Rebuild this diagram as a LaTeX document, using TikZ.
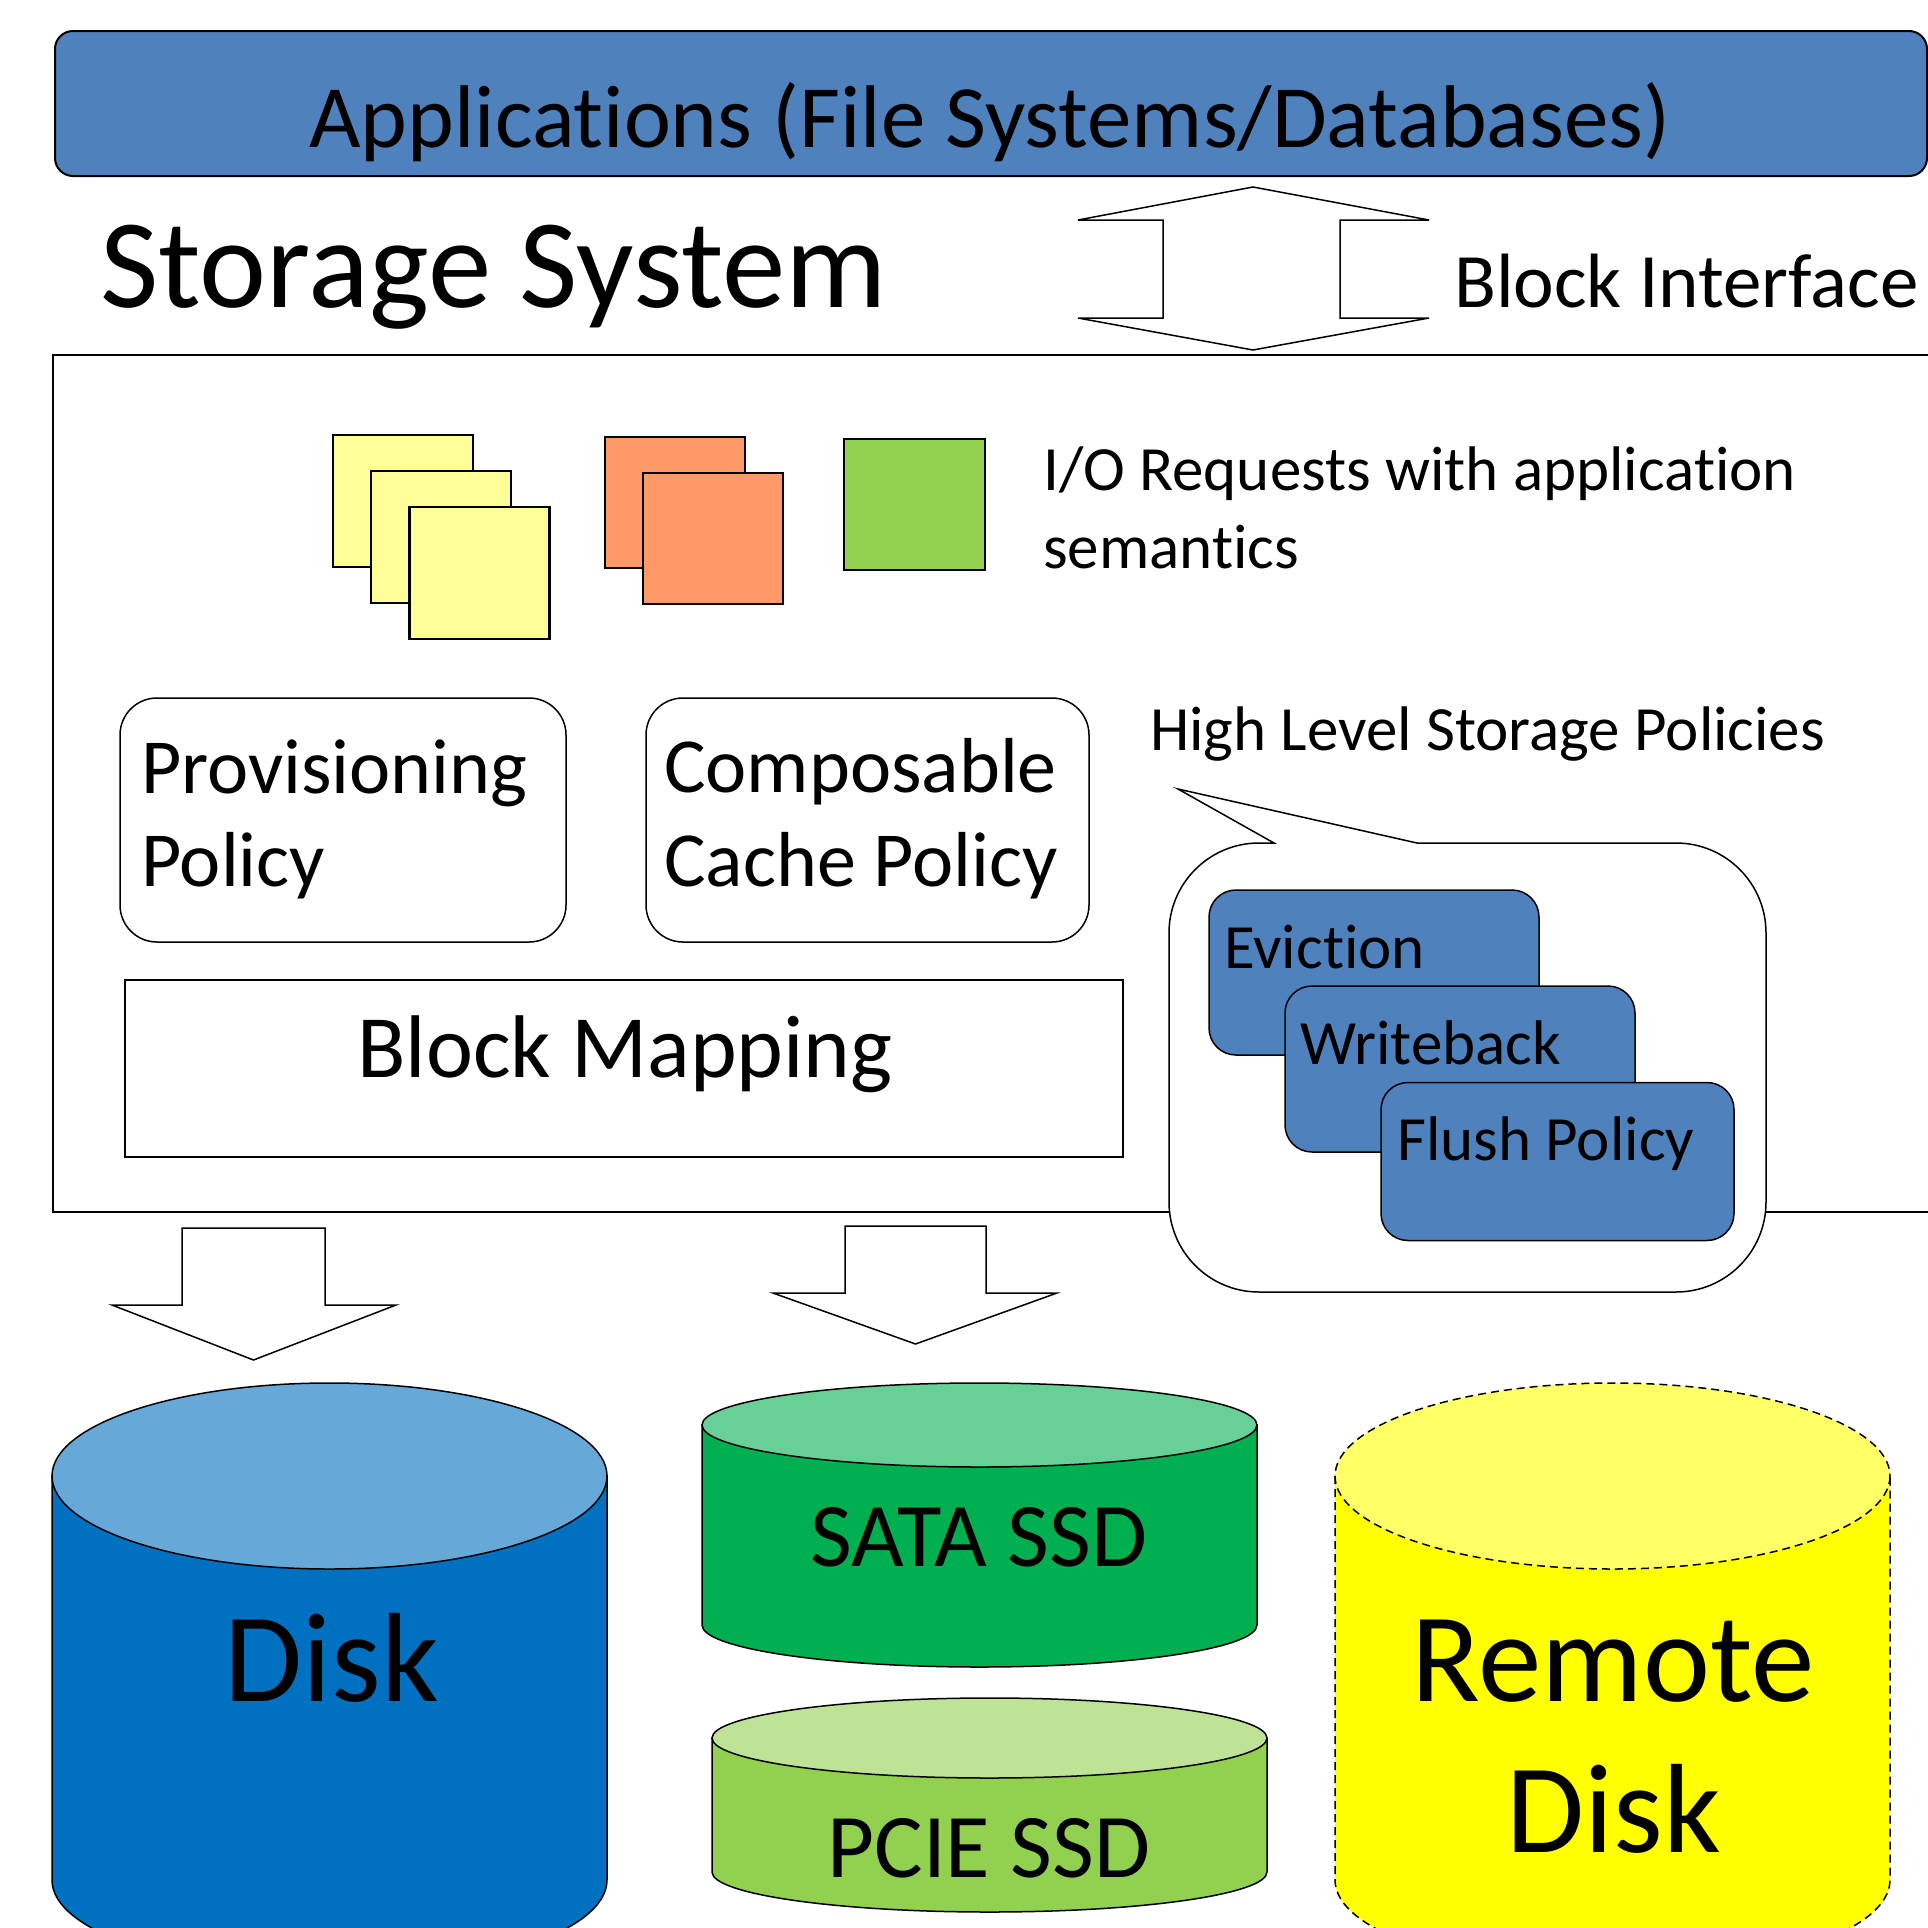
\documentclass[tikz,border=0pt]{standalone}
\usepackage{fontspec}
\setmainfont{Carlito}[Ligatures={NoCommon,NoRequired,NoContextual,NoRare},Contextuals=NoAlternate]
\newcommand\nolig{\kern0pt}
\definecolor{appblue}{HTML}{4F81BD}
\definecolor{yellowsq}{HTML}{FFFF99}
\definecolor{orangesq}{HTML}{FF9966}
\definecolor{greensq}{HTML}{92D050}
\definecolor{diskbody}{HTML}{0070C0}
\definecolor{disktop}{HTML}{66A9D9}
\definecolor{satabody}{HTML}{00B050}
\definecolor{satatop}{HTML}{66D096}
\definecolor{pciebody}{HTML}{92D050}
\definecolor{pcietop}{HTML}{BEE396}
\definecolor{remotebody}{HTML}{FFFF00}
\definecolor{remotetop}{HTML}{FFFF66}
\begin{document}
\begin{tikzpicture}[x=1pt,y=-1pt,
  lbl/.style={inner sep=0pt, text=black},
  fA/.style={font=\fontsize{89}{108}\selectfont},
  fB/.style={font=\fontsize{127}{154}\selectfont},
  fC/.style={font=\fontsize{77}{93}\selectfont},
  fD/.style={font=\fontsize{63}{77}\selectfont},
  fE/.style={font=\fontsize{78}{93}\selectfont},
  fF/.style={font=\fontsize{91}{110}\selectfont},
  sq/.style={draw=black, line width=2.5pt, inner sep=0pt},
  blockarrow/.style={draw=black, fill=white, line width=1.5pt, line join=miter},
  pbox/.style={draw=black, fill=white, line width=1.5pt, rounded corners=37pt, inner sep=0pt},
  bluebox/.style={draw=black, fill=appblue, line width=1.5pt, rounded corners=27pt, inner sep=0pt},
  cyl/.style={draw=black, line width=1.5pt},
]
\useasboundingbox (0,0) rectangle (1928,1928);
\clip (0,0) rectangle (1928,1928);

% Applications bar
\node[draw=black, fill=appblue, line width=2pt, rounded corners=18pt, inner sep=0pt,
      minimum width=1872pt, minimum height=145pt] (apps) at (991,103.5) {};
\node[lbl, fA, anchor=base] (appstext) at (990,147) {Applicat\nolig ions (File Systems/Databases)};

% Storage system title
\node[lbl, fB, anchor=base west] (stitle) at (100,307) {Storage System};

% Block interface double arrow
\coordinate (bitop) at (1253,187);
\coordinate (bibot) at (1253,350);
\draw[blockarrow] (bitop) -- (1429,220) -- (1340,220) -- (1340,318) -- (1429,318) -- (bibot)
  -- (1078,318) -- (1163,318) -- (1163,220) -- (1078,220) -- cycle;
\node[lbl, fC, anchor=base west] (bitext) at (1454,307) {Block Interface};

% Storage box
\node[draw=black, line width=2pt, inner sep=0pt, minimum width=1887pt, minimum height=857pt] (storage) at (996.5,783.5) {};

% I/O request squares
\node[sq, fill=yellowsq, minimum width=140pt, minimum height=132pt] (y1) at (403,501) {};
\node[sq, fill=yellowsq, minimum width=140pt, minimum height=132pt] (y2) at (441,537) {};
\node[sq, fill=yellowsq, minimum width=140pt, minimum height=132pt] (y3) at (479.5,573) {};
\node[sq, fill=orangesq, minimum width=140pt, minimum height=131pt] (o1) at (675,502.5) {};
\node[sq, fill=orangesq, minimum width=140pt, minimum height=131pt] (o2) at (713,538.5) {};
\node[sq, fill=greensq, minimum width=141pt, minimum height=131pt] (g1) at (914.5,504.5) {};
\node[lbl, fD, anchor=base west] (io1) at (1043,490) {I/O Requests with applicat\nolig ion};
\node[lbl, fD, anchor=base west] (io2) at (1043,568) {semant\nolig ics};

% Policy boxes
\node[pbox, minimum width=446pt, minimum height=244pt] (prov) at (343,820) {};
\node[lbl, fE, anchor=base west] (prov1) at (141,793) {Provisioning};
\node[lbl, fE, anchor=base west] (prov2) at (141,886) {Policy};
\node[pbox, minimum width=443pt, minimum height=244pt] (comp) at (867.5,820) {};
\node[lbl, fE, anchor=base west] (comp1) at (664,792) {Composable};
\node[lbl, fE, anchor=base west] (comp2) at (664,886) {Cache Policy};

% Block mapping
\node[draw=black, line width=2pt, inner sep=0pt, minimum width=998pt, minimum height=177pt] (bmap) at (624,1068.5) {};
\node[lbl, fA, anchor=base] (bmaptext) at (625,1077) {Block Mapping};

% High level storage policies callout
\node[lbl, fD, anchor=base west] (hltext) at (1150,750) {High Level Storage Policies};
\draw[draw=black, fill=white, line width=1.5pt]
  (1274,843) -- (1178,789) -- (1417,843) -- (1676,843)
  arc[start angle=-90, end angle=0, radius=90] -- (1766,1202)
  arc[start angle=0, end angle=90, radius=90] -- (1259,1292)
  arc[start angle=90, end angle=180, radius=90] -- (1169,933)
  arc[start angle=180, end angle=270, radius=90] -- cycle;
\node[bluebox, minimum width=330pt, minimum height=165pt] (evict) at (1374,972.5) {};
\node[lbl, fD, anchor=base west] (evicttext) at (1224,968) {Eviction};
\node[bluebox, minimum width=350pt, minimum height=166pt] (wb) at (1460,1069) {};
\node[lbl, fD, anchor=base west] (wbtext) at (1300,1064) {Writeback};
\node[bluebox, minimum width=353pt, minimum height=158pt] (flush) at (1557.5,1161.5) {};
\node[lbl, fD, anchor=base west] (flushtext) at (1397,1160) {Flush Policy};

% Down arrows
\coordinate (la) at (253.5,1228);
\coordinate (ma) at (915.5,1226);
\draw[blockarrow] (182,1228) -- (325,1228) -- (325,1305) -- (396,1305) -- (253.5,1360) -- (112,1305) -- (182,1305) -- cycle;
\draw[blockarrow] (845,1226) -- (986,1226) -- (986,1293) -- (1057,1293) -- (915.5,1344) -- (773,1293) -- (845,1293) -- cycle;

% Disk cylinder
\draw[cyl, fill=diskbody] (52,1476) -- (52,1880) arc[start angle=180, end angle=0, x radius=277.5, y radius=93] -- (607,1476) -- cycle;
\draw[cyl, fill=disktop] (329.5,1476) ellipse[x radius=277.5, y radius=93];
\node[lbl, fB, anchor=base] (disktext) at (332,1701) {Disk};

% SATA SSD cylinder
\draw[cyl, fill=satabody] (702,1425) -- (702,1625) arc[start angle=180, end angle=0, x radius=277.5, y radius=42] -- (1257,1425) -- cycle;
\draw[cyl, fill=satatop] (979.5,1425) ellipse[x radius=277.5, y radius=42];
\node[lbl, fF, anchor=base] (satatext) at (979,1566) {SATA SSD};

% PCIE SSD cylinder
\draw[cyl, fill=pciebody] (712,1738) -- (712,1872) arc[start angle=180, end angle=0, x radius=277.5, y radius=40] -- (1267,1738) -- cycle;
\draw[cyl, fill=pcietop] (989.5,1738) ellipse[x radius=277.5, y radius=40];
\node[lbl, fF, anchor=base] (pcietext) at (989,1877) {PCIE SSD};

% Remote disk cylinder
\draw[cyl, dash pattern=on 8pt off 5pt, fill=remotebody] (1335,1476) -- (1335,1880) arc[start angle=180, end angle=0, x radius=277.5, y radius=93] -- (1890,1476) -- cycle;
\draw[cyl, dash pattern=on 8pt off 5pt, fill=remotetop] (1612.5,1476) ellipse[x radius=277.5, y radius=93];
\node[lbl, fB, anchor=base] (remote1) at (1613,1701) {Remote};
\node[lbl, fB, anchor=base] (remote2) at (1614,1852) {Disk};
\end{tikzpicture}
\end{document}
